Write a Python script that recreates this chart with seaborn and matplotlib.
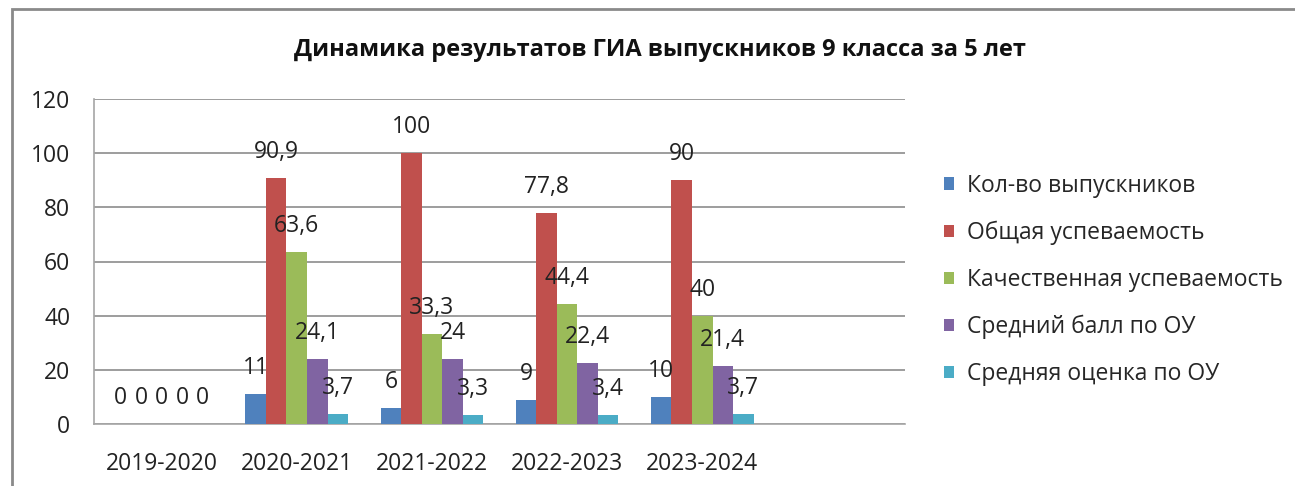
import pandas as pd
import matplotlib.pyplot as plt
import seaborn as sns
from matplotlib.patches import Rectangle

# --- ДАННЫЕ ---
years = ["2019-2020", "2020-2021", "2021-2022", "2022-2023", "2023-2024"]
series = ["Кол-во выпускников", "Общая успеваемость", "Качественная успеваемость",
          "Средний балл по ОУ", "Средняя оценка по ОУ"]
kolvo = [0, 11, 6, 9, 10]
obshaya = [0, 90.9, 100, 77.8, 90]
kachestv = [0, 63.6, 33.3, 44.4, 40]
sred_ball = [0, 24.1, 24, 22.4, 21.4]
sred_ocenka = [0, 3.7, 3.3, 3.4, 3.7]
colors = ["#4F81BD", "#C0504D", "#9BBB59", "#8064A2", "#4BACC6"]

values = [kolvo, obshaya, kachestv, sred_ball, sred_ocenka]
rows = []
for s, vals in zip(series, values):
    for y, v in zip(years, vals):
        rows.append({"Год": y, "Показатель": s, "Значение": v})
df = pd.DataFrame(rows)

sns.set_style("white")
plt.rcParams['font.family'] = ['Open Sans', 'DejaVu Sans']
FS = 16.5

fig = plt.figure(figsize=(12.95, 4.86), dpi=100)
ax = fig.add_axes([94 / 1295, 62 / 486, 811 / 1295, 325 / 486])

sns.barplot(data=df, x="Год", y="Значение", hue="Показатель", palette=colors,
            saturation=1, width=0.76, errorbar=None, linewidth=0, ax=ax, zorder=3)

for cont, vals in zip(ax.containers, values):
    labels = [str(v).replace(".", ",") for v in vals]
    ax.bar_label(cont, labels=labels, padding=10, fontsize=FS, color="#222222")

ax.set_ylim(0, 120)
ax.set_yticks(range(0, 121, 20))
# в исходной диаграмме есть пустой шестой слот справа
ax.set_xlim(-0.5, 5.5)
ax.grid(axis="y", color="#8c8c8c", linewidth=1.2, zorder=0)
ax.set_axisbelow(True)
for side in ["top", "right"]:
    ax.spines[side].set_visible(False)
for side in ["left", "bottom"]:
    ax.spines[side].set_color("#a6a6a6")
    ax.spines[side].set_linewidth(1.2)
ax.set_xlabel("")
ax.set_ylabel("")
ax.tick_params(axis="y", labelsize=FS, pad=17, length=0, colors="#222222")
ax.tick_params(axis="x", labelsize=FS, pad=20, length=0, colors="#222222")

handles, lbls = ax.get_legend_handles_labels()
ax.legend(handles, lbls, loc="center left", bbox_to_anchor=(944 / 1295, 1 - 280 / 486),
          bbox_transform=fig.transFigure, frameon=False, fontsize=FS,
          borderpad=0, borderaxespad=0,
          handlelength=0.45, handleheight=0.45, handletextpad=0.55, labelspacing=1.0)

fig.text(660 / 1295, 1 - 50 / 486, "Динамика результатов ГИА выпускников 9 класса за 5 лет",
         ha="center", va="center", fontsize=17, fontweight="bold", color="#111111")

fig.patches.append(Rectangle((12 / 1295, -0.2), 2, (486 - 9) / 486 + 0.2,
                             transform=fig.transFigure, fill=False,
                             edgecolor="#8a8a8a", linewidth=2))

fig.savefig("out.png", dpi=100)
